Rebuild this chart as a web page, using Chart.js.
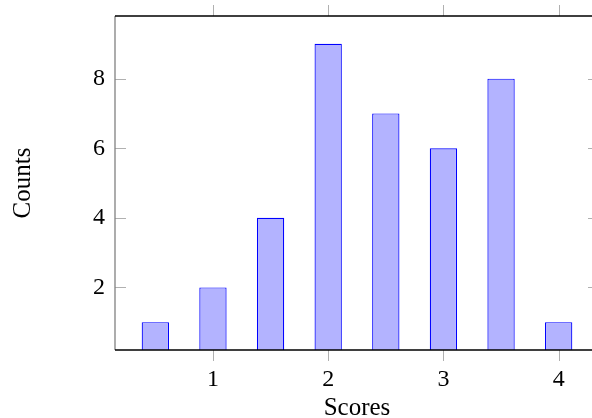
<!DOCTYPE html>
<html lang="en">

<head>
    <meta charset="UTF-8">
    <title>Scores</title>
    <style>
        html,
        body {
            margin: 0;
            padding: 0;
            background: #ffffff;
            overflow: hidden;
        }

        canvas {
            display: block;
        }
    </style>
</head>

<body>

    <canvas id="myChart" width="604" height="418"></canvas>

    <script src="https://cdn.jsdelivr.net/npm/chart.js"></script>

    <script>
        const scores = [0.5, 1, 1.5, 2, 2.5, 3, 3.5, 4];
        const counts = [1, 2, 4, 9, 7, 6, 8, 1];
        const xTicks = [1, 2, 3, 4];
        const yTicks = [2, 4, 6, 8];

        // pgfplots style frame: ticks out on x, in on y, mirrored on top/right
        const framePlugin = {
            id: 'frame',
            afterDraw(chart) {
                const { ctx, chartArea: a, scales: { x, y } } = chart;
                ctx.save();
                ctx.lineWidth = 1;
                ctx.strokeStyle = '#b0b0b0';
                ctx.beginPath();
                xTicks.forEach(v => {
                    const px = Math.round(x.getPixelForValue(v)) + 0.5;
                    ctx.moveTo(px, a.bottom);
                    ctx.lineTo(px, a.bottom + 11);
                    ctx.moveTo(px, a.top);
                    ctx.lineTo(px, a.top - 11);
                });
                yTicks.forEach(v => {
                    const py = Math.round(y.getPixelForValue(v)) + 0.5;
                    ctx.moveTo(a.left, py);
                    ctx.lineTo(a.left + 11, py);
                    ctx.moveTo(a.right, py);
                    ctx.lineTo(a.right - 11, py);
                });
                ctx.stroke();

                ctx.lineWidth = 1.3;
                ctx.strokeStyle = '#808080';
                ctx.beginPath();
                ctx.moveTo(a.left, a.top);
                ctx.lineTo(a.left, a.bottom);
                ctx.stroke();

                ctx.strokeStyle = '#000000';
                ctx.beginPath();
                ctx.moveTo(a.left, a.top);
                ctx.lineTo(a.right, a.top);
                ctx.lineTo(a.right, a.bottom);
                ctx.lineTo(a.left, a.bottom);
                ctx.stroke();
                ctx.restore();
            }
        };

        const tickFont = { family: '"Liberation Serif", "DejaVu Serif", serif', size: 24 };
        const titleFont = { family: '"Liberation Serif", "DejaVu Serif", serif', size: 25, lineHeight: 0.8 };

        const ctx = document.getElementById('myChart').getContext('2d');
        const myChart = new Chart(ctx, {
            type: 'bar',
            data: {
                datasets: [{
                    label: 'Counts',
                    data: scores.map((s, i) => ({ x: s, y: counts[i] })),
                    backgroundColor: 'rgb(179, 179, 255)',
                    borderColor: 'rgb(0, 0, 255)',
                    borderWidth: 1.2,
                    categoryPercentage: 1,
                    barPercentage: 0.474
                }]
            },
            options: {
                responsive: false,
                animation: false,
                layout: {
                    padding: { top: 16, right: 5, left: 0, bottom: 0 }
                },
                plugins: {
                    legend: { display: false },
                    tooltip: { enabled: false }
                },
                scales: {
                    x: {
                        type: 'linear',
                        offset: false,
                        min: 0.15,
                        max: 4.35,
                        afterBuildTicks: scale => { scale.ticks = xTicks.map(v => ({ value: v })); },
                        afterFit: scale => {
                            scale.height = 68;
                            scale.paddingLeft = 0;
                            scale.paddingRight = 0;
                        },
                        grid: { display: false, drawTicks: false, offset: false },
                        border: { display: false },
                        ticks: {
                            color: '#000000',
                            font: tickFont,
                            padding: 15,
                            maxRotation: 0
                        },
                        title: {
                            display: true,
                            text: 'Scores',
                            color: '#000000',
                            font: titleFont,
                            padding: { top: 0, bottom: 0 }
                        }
                    },
                    y: {
                        min: 0.2,
                        max: 9.8,
                        afterBuildTicks: scale => { scale.ticks = yTicks.map(v => ({ value: v })); },
                        afterFit: scale => {
                            scale.width = 115;
                            scale.paddingTop = 0;
                            scale.paddingBottom = 0;
                        },
                        grid: { display: false, drawTicks: false },
                        border: { display: false },
                        ticks: {
                            color: '#000000',
                            font: tickFont,
                            padding: 10
                        },
                        title: {
                            display: true,
                            text: 'Counts',
                            color: '#000000',
                            font: titleFont,
                            padding: { top: 13, bottom: 0 }
                        }
                    }
                }
            },
            plugins: [framePlugin]
        });
    </script>

</body>

</html>
